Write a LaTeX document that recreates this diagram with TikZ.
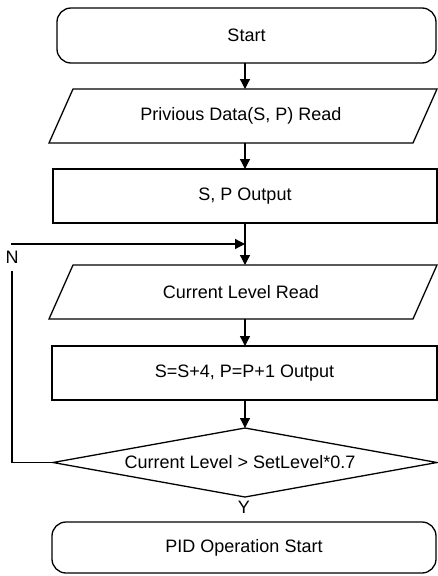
\documentclass[tikz,border=0pt]{standalone}
\usepackage{fontspec}
\setmainfont{Liberation Sans}
\usetikzlibrary{arrows.meta}
\begin{document}
\begin{tikzpicture}[x=1pt,y=-1pt,
  every node/.style={font=\fontsize{18}{20}\selectfont, inner sep=0pt, outer sep=0pt},
  line/.style={line width=1.3pt, line join=miter},
  arr/.style={line width=1.3pt, -{Triangle[length=10pt,width=10pt]}},
  term/.style={draw, line width=1.3pt, rectangle, rounded corners=14pt},
  box/.style={draw, line width=1.3pt, rectangle},
  ghost/.style={rectangle, draw=none}
]
\useasboundingbox (0,0) rectangle (437,576);
\coordinate (ax) at (245,0);

% Start
\node[term, minimum width=379pt, minimum height=55pt] (start) at (246.5,35.5) {Start};

% Previous data read (parallelogram)
\node[ghost, minimum width=388pt, minimum height=54pt] (p1) at (243,116) {};
\draw[line] (p1.south west) -- ++(364,0) -- (p1.north east) -- ++(-364,0) -- cycle;
\node at (241,116) {Privious Data(S, P) Read};

% S, P Output
\node[box, minimum width=384pt, minimum height=54pt] (r1) at (245,196) {S, P Output};

% Current level read (parallelogram)
\node[ghost, minimum width=388pt, minimum height=54pt] (p2) at (243,292) {};
\draw[line] (p2.south west) -- ++(364,0) -- (p2.north east) -- ++(-364,0) -- cycle;
\node at (241,292) {Current Level Read};

% S=S+4 output
\node[box, minimum width=385pt, minimum height=54pt] (r2) at (244.5,373) {S=S+4, P=P+1 Output};

% Decision diamond
\node[ghost, minimum width=384pt, minimum height=69pt] (dia) at (245,462.5) {};
\draw[line] (dia.north) -- (dia.east) -- (dia.south) -- (dia.west) -- cycle;
\node at (240,462) {Current Level > SetLevel*0.7};

% Y label
\node (ylab) at (244,507.5) {Y};

% PID Operation Start
\node[term, minimum width=384pt, minimum height=51pt] (pid) at (244,547.5) {PID Operation Start};

% connectors
\draw[arr] (start.south -| ax) -- (p1.north -| ax);
\draw[arr] (p1.south -| ax) -- (r1.north -| ax);
\draw[arr] (r1.south -| ax) -- (p2.north -| ax);
\draw[arr] (p2.south -| ax) -- (r2.north -| ax);
\draw[arr] (r2.south -| ax) -- (dia.north);

% loop back (N)
\node[inner ysep=7pt] (n) at (12,257.5) {N};
\coordinate (lc) at (12,462.5);
\coordinate (lt) at (11,244);
\draw[line] (dia.west) -- (lc) -- (n.south);
\draw[arr] (lt) -- (lt -| ax);
\end{tikzpicture}
\end{document}
